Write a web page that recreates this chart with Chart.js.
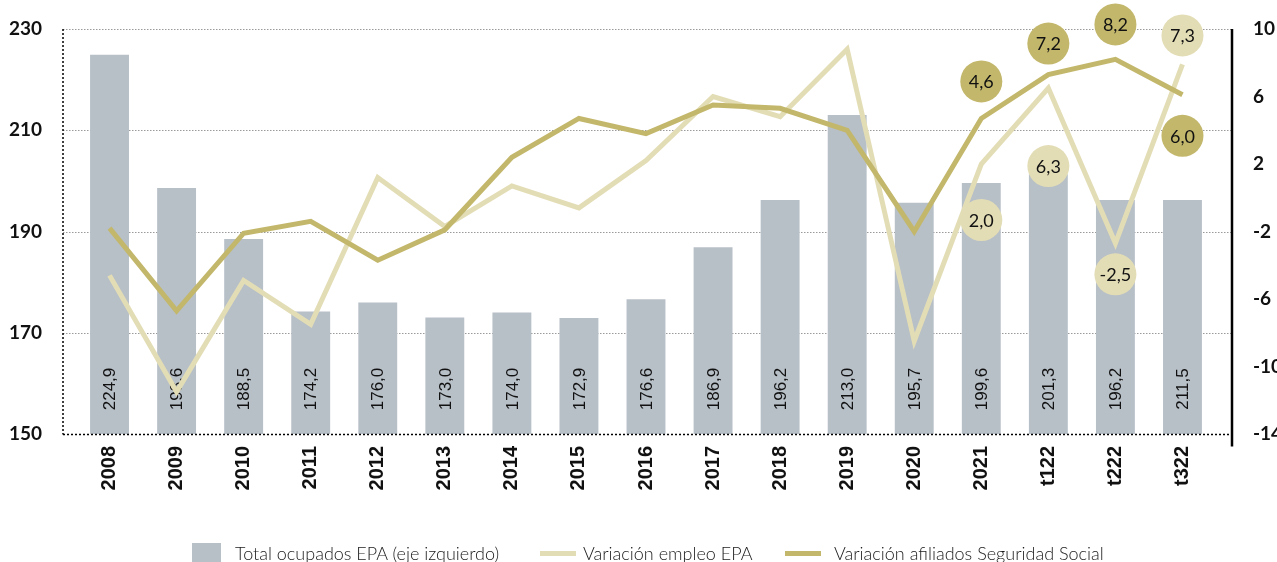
<!DOCTYPE html>
<html lang="es">
<head>
<meta charset="utf-8">
<title>Ocupados EPA y afiliados</title>
<script src="https://cdn.jsdelivr.net/npm/chart.js@4/dist/chart.umd.min.js"></script>
<style>
  html, body { margin: 0; padding: 0; background: #fff; overflow: hidden; }
  #wrap { position: relative; width: 1277px; height: 562px; }
  #grafico { position: absolute; left: 0; top: 0; }
  .leyenda { position: absolute; top: 542px; font-family: Lato, "Open Sans", sans-serif; font-weight: 300; font-size: 18px; color: #1a1a1a; white-space: nowrap; }
  .caja { position: absolute; top: 543px; width: 29px; height: 22px; background: #b7bfc7; }
  .raya { position: absolute; top: 551px; width: 36px; height: 5px; }
</style>
</head>
<body>
<div id="wrap">
  <canvas id="grafico" width="1277" height="562"></canvas>
  <div class="caja" style="left:192px"></div>
  <div class="leyenda" style="left:235px">Total ocupados EPA (eje izquierdo)</div>
  <div class="raya" style="left:540px;background:#e3ddb6"></div>
  <div class="leyenda" style="left:583px">Variación empleo EPA</div>
  <div class="raya" style="left:785px;background:#c3b76c"></div>
  <div class="leyenda" style="left:834px">Variación afiliados Seguridad Social</div>
</div>
<script>
// Datos
const categorias = ['2008', '2009', '2010', '2011', '2012', '2013', '2014', '2015', '2016',
    '2017', '2018', '2019', '2020', '2021', 't122', 't222', 't322'];

// Altura de las barras tal como se dibujan (eje izquierdo)
const ocupadosEPA = [224.9, 198.6, 188.5, 174.2, 176.0, 173.0, 174.0, 172.9, 176.6,
    186.9, 196.2, 213.0, 195.7, 199.6, 201.3, 196.2, 196.2];
// Etiquetas impresas dentro de las barras
const etiquetasOcupados = ['224,9', '198,6', '188,5', '174,2', '176,0', '173,0', '174,0', '172,9', '176,6',
    '186,9', '196,2', '213,0', '195,7', '199,6', '201,3', '196,2', '211,5'];

// Variaciones (eje derecho)
const variacionEmpleo = [-4.6, -11.5, -4.9, -7.5, 1.2, -1.7, 0.7, -0.6, 2.2,
    6.0, 4.8, 8.8, -8.5, 2.0, 6.5, -2.7, 7.9];
const variacionAfiliados = [-1.8, -6.7, -2.1, -1.4, -3.7, -1.9, 2.4, 4.7, 3.8,
    5.5, 5.3, 4.0, -2.0, 4.7, 7.3, 8.2, 6.1];

// Etiquetas de las burbujas
const etiquetasEmpleo = [null, null, null, null, null, null, null, null, null,
    null, null, null, null, '2,0', '6,3', '-2,5', '7,3'];
const etiquetasAfiliados = [null, null, null, null, null, null, null, null, null,
    null, null, null, null, '4,6', '7,2', '8,2', '6,0'];

// Ticks de los ejes
const ticksIzq = [150, 170, 190, 210, 230];
const ticksDer = [-14, -10, -6, -2, 2, 6, 10];

// Estilos
const colorBarra = '#b7bfc7';
const colorEmpleo = '#e3ddb6';
const colorAfiliados = '#c3b76c';
// desplazamiento vertical (px) de cada burbuja respecto a su punto
const despEmpleo = { 13: 56, 14: 78, 15: 31, 16: -29 };
const despAfiliados = { 13: -37, 14: -31, 15: -35, 16: 41 };

// Rejilla y ejes dibujados a mano
const ejesPlugin = {
    id: 'ejes',
    beforeDatasetsDraw(chart) {
        const { ctx, chartArea } = chart;
        const y = chart.scales.y;
        const x0 = chartArea.left - 13, x1 = chartArea.right + 16;
        ctx.save();
        ctx.strokeStyle = '#9a9a9a';
        ctx.lineWidth = 1;
        ctx.setLineDash([1.5, 1.5]);
        ticksIzq.slice(1).forEach(v => {
            const py = Math.round(y.getPixelForValue(v)) + 0.5;
            ctx.beginPath();
            ctx.moveTo(x0, py);
            ctx.lineTo(x1, py);
            ctx.stroke();
        });
        ctx.restore();
    },
    afterDatasetsDraw(chart) {
        const { ctx, chartArea } = chart;
        const y = chart.scales.y;
        const x0 = chartArea.left - 13, x1 = chartArea.right + 16;
        const yTop = y.getPixelForValue(230);
        const yBot = Math.round(y.getPixelForValue(150)) + 0.5;
        ctx.save();
        ctx.strokeStyle = '#000';
        ctx.lineWidth = 1.5;
        ctx.setLineDash([2, 2]);
        ctx.beginPath();
        ctx.moveTo(x0, yBot);
        ctx.lineTo(x1, yBot);
        ctx.stroke();
        ctx.beginPath();
        ctx.moveTo(x0, yTop);
        ctx.lineTo(x0, yBot);
        ctx.stroke();
        ctx.setLineDash([]);
        ctx.lineWidth = 2.5;
        ctx.beginPath();
        ctx.moveTo(x1, yTop);
        ctx.lineTo(x1, yBot + 12);
        ctx.stroke();
        ctx.restore();
    }
};

// Valores en vertical dentro de las barras
const etiquetasBarrasPlugin = {
    id: 'etiquetasBarras',
    afterDatasetDraw(chart, args) {
        if (args.index !== 0) return;
        const { ctx } = chart;
        const yBase = chart.scales.y.getPixelForValue(150);
        ctx.save();
        ctx.fillStyle = '#111';
        ctx.font = '17px "Liberation Sans", Arial, sans-serif';
        ctx.textAlign = 'center';
        ctx.textBaseline = 'middle';
        args.meta.data.forEach((bar, i) => {
            ctx.save();
            ctx.translate(bar.x + 1, yBase - 45);
            ctx.rotate(-Math.PI / 2);
            ctx.fillText(etiquetasOcupados[i], 0, 0);
            ctx.restore();
        });
        ctx.restore();
    }
};

// Burbujas con los valores de las variaciones
const burbujasPlugin = {
    id: 'burbujas',
    afterDraw(chart) {
        const { ctx } = chart;
        const pintar = (dsIndex, etiquetas, desp, color) => {
            const meta = chart.getDatasetMeta(dsIndex);
            meta.data.forEach((pt, i) => {
                if (!etiquetas[i]) return;
                const cx = pt.x, cy = pt.y + (desp[i] || 0);
                ctx.beginPath();
                ctx.arc(cx, cy, 21, 0, Math.PI * 2);
                ctx.fillStyle = color;
                ctx.fill();
                ctx.fillStyle = '#111';
                ctx.font = '18px Lato, "Open Sans", sans-serif';
                ctx.textAlign = 'center';
                ctx.textBaseline = 'middle';
                ctx.fillText(etiquetas[i], cx, cy + 1);
            });
        };
        ctx.save();
        pintar(1, etiquetasEmpleo, despEmpleo, colorEmpleo);
        pintar(2, etiquetasAfiliados, despAfiliados, colorAfiliados);
        ctx.restore();
    }
};

// el padding de los ticks no debe empujar el área hacia abajo
function ajustarEjeY(ancho) {
    return function (scale) {
        scale.width = ancho;
        scale.paddingTop = 12;
        scale.paddingBottom = 12;
    };
}

const ctx = document.getElementById('grafico').getContext('2d');
const grafico = new Chart(ctx, {
    type: 'bar',
    data: {
        labels: categorias,
        datasets: [{
            type: 'bar',
            label: 'Total ocupados EPA (eje izquierdo)',
            data: ocupadosEPA,
            backgroundColor: colorBarra,
            yAxisID: 'y',
            barPercentage: 0.58,
            categoryPercentage: 1,
            order: 3
        }, {
            type: 'line',
            label: 'Variación empleo EPA',
            data: variacionEmpleo,
            borderColor: colorEmpleo,
            borderWidth: 5,
            pointRadius: 0,
            tension: 0,
            yAxisID: 'y1',
            order: 2
        }, {
            type: 'line',
            label: 'Variación afiliados Seguridad Social',
            data: variacionAfiliados,
            borderColor: colorAfiliados,
            borderWidth: 5,
            pointRadius: 0,
            tension: 0,
            yAxisID: 'y1',
            order: 1
        }]
    },
    options: {
        responsive: false,
        animation: false,
        devicePixelRatio: 1,
        layout: { padding: { top: 29, left: 0, right: 0, bottom: 0 } },
        plugins: {
            legend: { display: false },
            tooltip: { enabled: false }
        },
        scales: {
            x: {
                offset: true,
                grid: { display: false, drawTicks: false },
                border: { display: false },
                ticks: {
                    minRotation: 90,
                    maxRotation: 90,
                    padding: 12,
                    color: '#111',
                    font: { family: 'Liberation Sans', size: 20, weight: 'bold' }
                },
                afterFit(scale) { scale.height = 128; }
            },
            y: {
                position: 'left',
                min: 150,
                max: 230,
                grid: { display: false, drawTicks: false },
                border: { display: false },
                afterBuildTicks(scale) { scale.ticks = ticksIzq.map(v => ({ value: v })); },
                ticks: {
                    padding: 34,
                    color: '#111',
                    font: { family: 'Lato, sans-serif', size: 19, weight: 'bold' }
                },
                afterFit: ajustarEjeY(76)
            },
            y1: {
                position: 'right',
                min: -14,
                max: 10,
                grid: { display: false, drawTicks: false },
                border: { display: false },
                afterBuildTicks(scale) { scale.ticks = ticksDer.map(v => ({ value: v })); },
                ticks: {
                    padding: 37,
                    color: '#111',
                    font: { family: 'Lato, sans-serif', size: 19, weight: 'bold' }
                },
                afterFit: ajustarEjeY(61)
            }
        }
    },
    plugins: [ejesPlugin, etiquetasBarrasPlugin, burbujasPlugin]
});
</script>
</body>
</html>
